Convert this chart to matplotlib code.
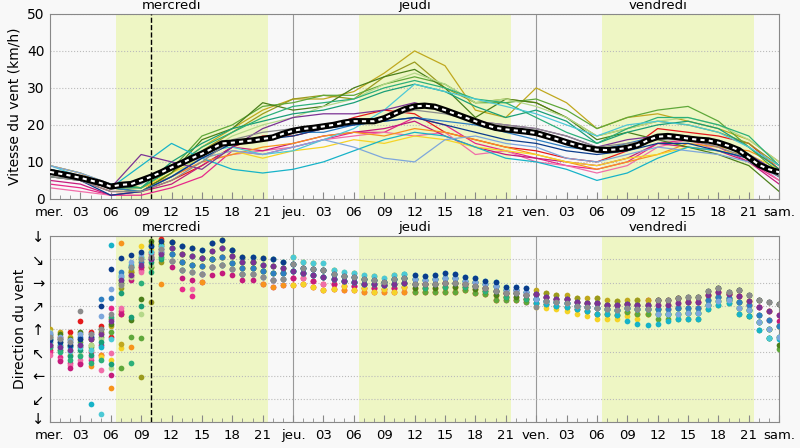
import matplotlib
matplotlib.use("Agg")
from matplotlib import pyplot as plt
from matplotlib.transforms import ScaledTranslation

# hours since wednesday 00h
hours_3h = list(range(0, 73, 3))
hours_1h = list(range(0, 73))

day_names = ["mercredi", "jeudi", "vendredi"]
day_centres = [12, 36, 60]
daylight = [(6.5, 21.5), (30.5, 45.5), (54.5, 69.5)]
now_hour = 10

tick_pos = list(range(0, 73, 3))
tick_labels = ["mer.", "03", "06", "09", "12", "15", "18", "21",
               "jeu.", "03", "06", "09", "12", "15", "18", "21",
               "ven.", "03", "06", "09", "12", "15", "18", "21", "sam."]

dir_ticks = [0, 45, 90, 135, 180, 225, 270, 315, 360]
dir_labels = ["↓", "↙", "←", "↖", "↑", "↗", "→", "↘", "↓"]

# mean wind speed, hourly (km/h)
speed_mean = [7.3, 6.8, 6.3, 5.7, 5.0, 4.3, 3.3, 3.8, 4.0, 5.0, 6.0, 7.2,
              8.5, 9.7, 11.0, 12.2, 13.6, 15.0, 15.2, 15.5, 15.8, 16.2, 16.6, 17.6,
              18.4, 18.9, 19.2, 19.6, 20.0, 20.6, 21.0, 21.0, 21.0, 21.8, 23.0, 24.2,
              25.0, 25.2, 24.9, 24.0, 23.0, 22.0, 21.0, 20.0, 19.2, 18.8, 18.5, 18.2,
              17.8, 17.0, 16.2, 15.3, 14.5, 13.8, 13.3, 13.2, 13.4, 13.8, 14.5, 15.8,
              16.8, 17.0, 16.7, 16.3, 16.0, 15.8, 15.2, 14.3, 13.2, 11.2, 9.2, 8.0, 7.2]

# ensemble members, speed every 3 h (km/h)
spd_red = [6, 5, 2, 2, 5, 9, 14, 17, 17, 19, 22, 24, 23, 18, 16, 14, 13, 11, 10, 13, 19, 18, 17, 15, 8]
spd_pink = [4, 3, 1, 1, 3, 6, 13, 12, 14, 16, 18, 18, 22, 20, 15, 13, 11, 9, 8, 10, 15, 16, 14, 10, 5]
spd_hotpink = [3, 2, 1, 2, 6, 10, 12, 13, 14, 16, 17, 18, 17, 18, 12, 13, 10, 9, 7, 9, 14, 16, 13, 11, 5]
spd_magenta = [5, 4, 1, 2, 4, 9, 14, 13, 15, 17, 18, 19, 21, 17, 14, 12, 11, 10, 9, 11, 15, 14, 13, 10, 4]
spd_orange = [9, 7, 3, 3, 6, 10, 12, 14, 15, 17, 18, 17, 19, 18, 16, 14, 12, 10, 8, 10, 12, 15, 14, 13, 9]
spd_yellow = [8, 6, 4, 3, 7, 11, 13, 11, 13, 14, 16, 15, 17, 16, 14, 13, 12, 10, 9, 11, 12, 14, 13, 12, 8]
spd_gold = [9, 7, 4, 3, 8, 14, 19, 24, 27, 27, 29, 34, 40, 36, 24, 22, 30, 26, 19, 22, 23, 21, 19, 16, 10]
spd_olive = [7, 6, 3, 2, 7, 13, 18, 23, 27, 28, 27, 33, 37, 30, 26, 27, 26, 22, 17, 19, 21, 20, 18, 15, 9]
spd_green = [8, 6, 4, 3, 8, 17, 20, 25, 26, 28, 28, 31, 33, 31, 26, 26, 27, 24, 19, 22, 24, 25, 21, 14, 7]
spd_dkgreen = [7, 5, 3, 2, 7, 16, 19, 26, 24, 25, 30, 33, 35, 30, 22, 27, 26, 22, 16, 18, 16, 14, 12, 9, 2]
spd_ltgreen = [7, 6, 4, 2, 6, 12, 17, 20, 22, 25, 27, 31, 34, 31, 26, 27, 25, 22, 17, 19, 21, 22, 20, 16, 10]
spd_teal = [6, 5, 3, 3, 10, 15, 19, 21, 23, 24, 26, 29, 31, 29, 25, 22, 24, 21, 15, 18, 20, 21, 19, 14, 8]
spd_seagreen = [7, 5, 4, 3, 8, 14, 18, 22, 25, 26, 27, 30, 32, 30, 27, 26, 22, 18, 15, 19, 22, 22, 20, 17, 9]
spd_cyan = [8, 6, 3, 9, 15, 11, 8, 7, 8, 10, 13, 16, 18, 17, 14, 11, 10, 8, 5, 7, 11, 14, 13, 11, 6]
spd_turq = [9, 6, 4, 5, 9, 13, 14, 12, 13, 16, 19, 24, 31, 29, 27, 25, 23, 20, 17, 20, 21, 20, 18, 14, 9]
spd_blue = [8, 6, 3, 2, 6, 11, 15, 16, 18, 18, 20, 21, 22, 21, 20, 18, 16, 14, 13, 15, 17, 16, 15, 12, 7]
spd_ltblue = [9, 7, 4, 4, 9, 11, 13, 12, 14, 16, 14, 11, 10, 16, 17, 15, 14, 11, 10, 12, 14, 13, 12, 10, 6]
spd_navy = [7, 5, 1, 2, 6, 11, 15, 16, 17, 19, 20, 21, 22, 20, 18, 16, 15, 13, 12, 13, 15, 15, 13, 11, 6]
spd_purple = [7, 5, 3, 12, 10, 8, 14, 19, 22, 23, 23, 24, 26, 24, 21, 20, 19, 17, 14, 16, 17, 17, 15, 12, 7]
spd_grey = [6, 5, 2, 2, 5, 10, 16, 18, 19, 20, 21, 22, 24, 23, 21, 20, 19, 17, 14, 15, 16, 16, 14, 11, 6]

# ensemble members, hourly direction (degrees, where the wind comes from)
dir_red = [140, 165, 175, 195, 175, 185, 165, 210, 290, 300, 330, 355,
           349, 325, 305, 302, 315, 320, 321, 298, 298, 292, 275, 288,
           279, 278, 273, 268, 267, 264, 263, 260, 260, 258, 260, 261,
           268, 267, 268, 270, 270, 268, 264, 260, 254, 250, 250, 246,
           247, 243, 238, 238, 233, 231, 230, 227, 226, 228, 227, 236,
           236, 236, 240, 232, 232, 245, 251, 247, 244, 235, 222, 215, 207]
dir_pink = [135, 125, 115, 115, 120, 130, 220, 215, 285, 295, 320, 335,
            312, 258, 244, 287, 300, 304, 296, 286, 286, 280, 275, 276,
            265, 268, 262, 255, 258, 255, 255, 252, 252, 252, 252, 252,
            252, 252, 252, 252, 252, 255, 250, 247, 237, 237, 237, 232,
            238, 235, 232, 230, 225, 223, 220, 218, 217, 220, 218, 218,
            218, 218, 220, 221, 221, 236, 243, 241, 232, 226, 207, 197, 186]
dir_hotpink = [130, 120, 110, 120, 125, 100, 133, 220, 280, 290, 315, 330,
               325, 309, 258, 287, 300, 320, 308, 298, 298, 292, 288, 288,
               279, 278, 273, 268, 267, 264, 263, 260, 260, 258, 260, 261,
               260, 260, 260, 261, 261, 261, 257, 254, 246, 243, 243, 239,
               230, 228, 225, 222, 218, 214, 210, 209, 208, 213, 209, 209,
               209, 218, 220, 211, 221, 227, 234, 236, 221, 216, 222, 215, 186]
dir_magenta = [145, 118, 105, 112, 135, 150, 91, 210, 275, 300, 325, 340,
               300, 278, 275, 271, 284, 288, 284, 275, 275, 268, 262, 265,
               279, 289, 273, 281, 267, 273, 263, 268, 260, 265, 260, 270,
               276, 267, 276, 270, 278, 268, 271, 260, 263, 250, 256, 246,
               247, 243, 238, 238, 233, 231, 230, 227, 226, 228, 227, 227,
               227, 227, 230, 232, 232, 245, 251, 247, 244, 226, 222, 197, 195]
dir_orange = [150, 140, 130, 145, 108, 130, 65, 346, 146, 310, 300, 268,
              312, 294, 290, 271, 300, 304, 296, 286, 286, 268, 262, 265,
              265, 268, 262, 255, 258, 255, 255, 252, 252, 252, 252, 252,
              252, 252, 252, 252, 252, 255, 250, 247, 237, 243, 237, 239,
              230, 228, 225, 222, 218, 214, 210, 209, 208, 213, 209, 209,
              209, 209, 210, 211, 211, 227, 234, 236, 221, 216, 193, 180, 164]
dir_yellow = [155, 150, 140, 150, 140, 125, 120, 143, 300, 340, 335, 345,
              337, 309, 305, 302, 315, 320, 308, 298, 298, 292, 288, 276,
              265, 268, 262, 255, 258, 264, 255, 260, 252, 258, 252, 261,
              260, 260, 260, 261, 261, 261, 257, 254, 246, 243, 243, 239,
              222, 220, 218, 215, 210, 205, 200, 200, 200, 205, 200, 209,
              209, 209, 210, 211, 211, 227, 234, 236, 221, 216, 193, 180, 186]
dir_gold = [180, 175, 165, 170, 160, 170, 185, 152, 295, 320, 345, 350,
            337, 325, 321, 318, 331, 337, 321, 309, 309, 305, 302, 299,
            320, 310, 307, 294, 295, 282, 288, 276, 282, 272, 284, 278,
            268, 267, 268, 270, 270, 268, 264, 260, 254, 250, 250, 246,
            255, 250, 245, 245, 240, 240, 240, 236, 234, 236, 236, 236,
            236, 236, 240, 242, 242, 254, 260, 252, 255, 245, 236, 232, 229]
dir_olive = [170, 160, 150, 160, 150, 175, 200, 260, 290, 88, 233, 310,
             337, 340, 321, 318, 347, 337, 333, 309, 309, 317, 302, 310,
             292, 289, 284, 281, 276, 273, 271, 268, 267, 265, 268, 270,
             276, 275, 277, 279, 278, 274, 271, 267, 263, 256, 256, 252,
             247, 250, 245, 238, 240, 231, 240, 227, 234, 228, 236, 227,
             236, 227, 240, 232, 242, 245, 260, 247, 255, 235, 236, 215, 229]
dir_green = [160, 155, 148, 155, 145, 165, 175, 104, 165, 162, 300, 325,
             325, 309, 305, 302, 315, 304, 308, 298, 298, 292, 288, 288,
             292, 289, 284, 281, 276, 273, 271, 268, 267, 265, 268, 270,
             252, 252, 252, 252, 252, 255, 250, 247, 237, 237, 237, 232,
             230, 228, 225, 222, 218, 214, 210, 209, 208, 213, 209, 209,
             200, 200, 200, 200, 200, 218, 226, 230, 210, 206, 178, 162, 142]
dir_dkgreen = [165, 170, 160, 175, 160, 180, 190, 270, 197, 239, 350, 345,
               349, 309, 336, 318, 315, 353, 333, 320, 309, 305, 315, 299,
               306, 299, 296, 294, 286, 282, 280, 276, 275, 272, 276, 278,
               260, 260, 260, 261, 261, 261, 257, 254, 246, 243, 243, 239,
               238, 235, 232, 230, 225, 223, 220, 218, 217, 220, 218, 218,
               218, 209, 220, 211, 221, 227, 243, 236, 232, 206, 193, 162, 150]
dir_ltgreen = [175, 145, 135, 130, 150, 160, 104, 265, 280, 210, 305, 320,
               349, 340, 336, 334, 347, 353, 333, 320, 320, 317, 315, 310,
               320, 310, 307, 307, 295, 291, 288, 284, 282, 278, 284, 287,
               276, 275, 277, 279, 278, 274, 271, 267, 263, 256, 256, 252,
               247, 243, 238, 238, 233, 231, 230, 227, 226, 228, 227, 227,
               218, 218, 220, 221, 221, 236, 243, 241, 232, 226, 207, 197, 186]
dir_teal = [150, 140, 128, 140, 130, 155, 113, 250, 204, 225, 310, 315,
            325, 294, 305, 318, 315, 320, 308, 286, 298, 292, 288, 288,
            292, 289, 284, 281, 276, 273, 271, 268, 267, 265, 268, 270,
            268, 267, 268, 270, 270, 268, 264, 260, 254, 250, 250, 246,
            238, 235, 232, 230, 225, 223, 220, 218, 217, 220, 218, 218,
            218, 209, 220, 221, 211, 236, 243, 241, 232, 216, 207, 180, 186]
dir_seagreen = [145, 135, 120, 128, 115, 120, 204, 275, 115, 270, 290, 320,
                337, 325, 321, 318, 331, 337, 321, 309, 309, 305, 302, 299,
                306, 299, 296, 294, 286, 282, 280, 276, 275, 272, 276, 278,
                268, 260, 268, 261, 270, 261, 264, 254, 254, 243, 250, 239,
                238, 235, 232, 230, 225, 223, 220, 218, 217, 220, 218, 218,
                209, 209, 210, 211, 211, 227, 234, 236, 221, 216, 193, 180, 164]
dir_cyan = [160, 150, 145, 150, 35, 145, 342, 280, 305, 315, 340, 335,
            312, 294, 290, 287, 300, 304, 296, 286, 286, 280, 275, 276,
            292, 289, 284, 281, 276, 273, 271, 268, 267, 265, 276, 287,
            276, 275, 277, 279, 278, 274, 271, 267, 263, 256, 256, 252,
            230, 228, 225, 222, 218, 214, 210, 209, 208, 196, 190, 187,
            190, 196, 200, 200, 200, 218, 226, 230, 210, 206, 178, 162, 160]
dir_turq = [155, 145, 138, 145, 140, 15, 160, 285, 300, 320, 330, 340,
            337, 340, 321, 334, 347, 337, 333, 309, 320, 305, 315, 310,
            320, 310, 307, 307, 295, 291, 288, 284, 282, 278, 284, 287,
            284, 282, 285, 288, 287, 280, 278, 273, 271, 262, 262, 259,
            238, 235, 232, 230, 225, 223, 220, 218, 217, 220, 218, 218,
            209, 209, 210, 211, 211, 227, 234, 236, 221, 216, 193, 162, 164]
dir_blue = [168, 160, 155, 165, 170, 239, 241, 290, 300, 310, 315, 330,
            325, 309, 305, 302, 315, 320, 308, 298, 298, 292, 288, 288,
            292, 289, 284, 281, 276, 273, 271, 268, 267, 265, 268, 270,
            276, 275, 277, 279, 278, 274, 271, 267, 263, 256, 256, 252,
            238, 235, 232, 230, 225, 223, 220, 218, 217, 220, 218, 218,
            218, 218, 220, 221, 221, 236, 243, 241, 232, 226, 207, 197, 186]
dir_ltblue = [172, 165, 158, 170, 165, 205, 258, 283, 310, 325, 320, 330,
              312, 294, 290, 287, 300, 304, 296, 286, 286, 280, 275, 276,
              306, 299, 296, 294, 286, 282, 280, 276, 275, 272, 276, 278,
              276, 275, 277, 279, 278, 274, 271, 267, 263, 256, 256, 252,
              238, 235, 232, 230, 225, 223, 220, 218, 217, 220, 218, 218,
              209, 209, 210, 211, 211, 227, 234, 236, 221, 216, 193, 180, 164]
dir_navy = [158, 155, 150, 160, 165, 224, 297, 318, 323, 330, 340, 350,
            349, 340, 336, 334, 347, 353, 333, 320, 320, 317, 315, 310,
            306, 299, 296, 294, 286, 282, 280, 276, 275, 272, 276, 278,
            284, 282, 285, 288, 287, 280, 278, 273, 271, 262, 262, 259,
            247, 243, 238, 238, 233, 231, 230, 227, 226, 228, 227, 227,
            236, 236, 240, 242, 242, 254, 260, 252, 255, 245, 236, 232, 229]
dir_purple = [150, 145, 140, 150, 160, 170, 195, 275, 285, 305, 315, 325,
              337, 325, 321, 318, 331, 337, 321, 309, 309, 305, 302, 299,
              292, 289, 284, 281, 276, 273, 271, 268, 267, 265, 268, 270,
              268, 267, 268, 270, 270, 268, 264, 260, 254, 250, 250, 246,
              247, 243, 238, 238, 233, 231, 230, 227, 226, 228, 227, 227,
              227, 227, 230, 232, 232, 245, 251, 247, 244, 235, 222, 215, 207]
dir_grey = [165, 160, 155, 215, 170, 180, 210, 265, 300, 315, 320, 335,
            312, 294, 290, 287, 300, 304, 296, 286, 286, 280, 275, 276,
            306, 299, 296, 294, 286, 282, 280, 276, 275, 272, 276, 278,
            268, 267, 268, 270, 270, 268, 264, 260, 254, 250, 250, 246,
            222, 235, 232, 230, 225, 223, 220, 218, 217, 220, 218, 218,
            236, 236, 240, 242, 242, 254, 260, 252, 255, 245, 236, 232, 229]

members = [
    ("#e41a1c", spd_red, dir_red),
    ("#e7298a", spd_pink, dir_pink),
    ("#f06ea9", spd_hotpink, dir_hotpink),
    ("#c51b7d", spd_magenta, dir_magenta),
    ("#f7941d", spd_orange, dir_orange),
    ("#f5d327", spd_yellow, dir_yellow),
    ("#c0a81e", spd_gold, dir_gold),
    ("#9a9a1e", spd_olive, dir_olive),
    ("#5fa83a", spd_green, dir_green),
    ("#4b7f1a", spd_dkgreen, dir_dkgreen),
    ("#b5d98a", spd_ltgreen, dir_ltgreen),
    ("#1a9e77", spd_teal, dir_teal),
    ("#2cb07a", spd_seagreen, dir_seagreen),
    ("#17b3c8", spd_cyan, dir_cyan),
    ("#4cc9d6", spd_turq, dir_turq),
    ("#2f7fc1", spd_blue, dir_blue),
    ("#7ea7dc", spd_ltblue, dir_ltblue),
    ("#0b3c8c", spd_navy, dir_navy),
    ("#7b3294", spd_purple, dir_purple),
    ("#8c8c8c", spd_grey, dir_grey),
]

bg = "#f8f8f8"
shade = "#eef6c4"

fig = plt.figure(figsize=(8, 4.48), dpi=100, facecolor=bg)
ax1 = fig.add_axes([0.0625, 0.556, 0.9115, 0.413])
ax2 = fig.add_axes([0.0625, 0.058, 0.9115, 0.415])


def decorate(ax):
    ax.set_facecolor(bg)
    for a, b in daylight:
        ax.axvspan(a, b, color=shade, lw=0, zorder=0)
    for d in (24, 48):
        ax.axvline(d, color="#999999", lw=0.8, zorder=1)
    ax.axvline(now_hour, color="black", lw=1, ls="--", zorder=5)
    ax.set_xlim(0, 72)
    ax.set_xticks(tick_pos)
    ax.set_xticklabels(tick_labels)
    ax.set_xticks(hours_1h, minor=True)
    ax.tick_params(axis="x", which="major", direction="in", length=5, labelsize=9.5,
                   color="#888888", pad=5)
    ax.tick_params(axis="x", which="minor", direction="in", length=3, color="#888888")
    ax.tick_params(axis="y", direction="in", length=0, pad=4)
    ax.grid(axis="y", color="#bbbbbb", ls=":", lw=0.8, zorder=1)
    for s in ax.spines.values():
        s.set_color("#888888")
    for name, c in zip(day_names, day_centres):
        ax.text(c, 1.01, name, transform=ax.get_xaxis_transform(),
                ha="center", va="bottom", fontsize=9.5)


decorate(ax1)
for color, spd, d in members:
    ax1.plot(hours_3h, spd, color=color, lw=0.9, zorder=2)
ax1.plot(hours_1h, speed_mean, color="black", lw=4.5, zorder=3, solid_capstyle="butt")
ax1.plot(hours_1h, speed_mean, color="white", lw=1.5, ls=(0, (2, 2)), zorder=4)
ax1.set_ylim(0, 50)
ax1.set_yticks([0, 10, 20, 30, 40, 50])
ax1.tick_params(axis="y", labelsize=10)
ax1.set_ylabel("Vitesse du vent (km/h)", fontsize=10)

decorate(ax2)
for color, spd, d in members:
    ax2.scatter(hours_1h, d, s=17, color=color, lw=0, zorder=3)
ax2.set_ylim(0, 360)
ax2.set_yticks(dir_ticks)
ax2.set_yticklabels(dir_labels)
ax2.tick_params(axis="y", labelsize=10.5)
ax2.set_ylabel("Direction du vent", fontsize=10)

# lift the bottom arrow a little so it clears the first day label
low = ax2.get_yticklabels()[0]
low.set_transform(low.get_transform() + ScaledTranslation(0, 3 / 72, fig.dpi_scale_trans))

fig.savefig("out.png", dpi=100, facecolor=bg)
